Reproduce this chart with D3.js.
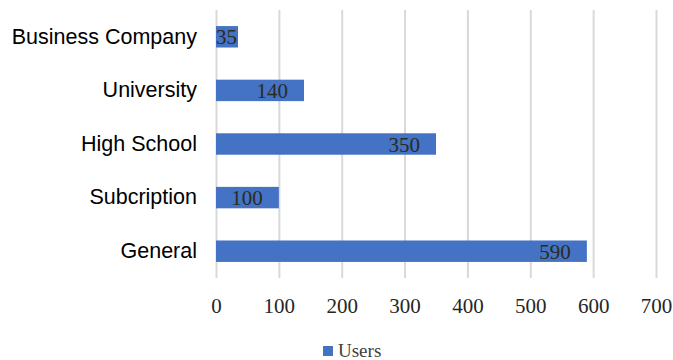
<!DOCTYPE html>
<html>
<head>
<meta charset="utf-8">
<script src="https://cdn.jsdelivr.net/npm/d3@7"></script>
<style>
  html, body { margin: 0; padding: 0; background: #fff; }
  svg { display: block; }
</style>
</head>
<body>
<svg id="chart" width="673" height="360"></svg>
<script>
'use strict';

// chart data
var categories = ['Business Company', 'University', 'High School', 'Subcription', 'General'];
var users = [35, 140, 350, 100, 590];
var xTicks = [0, 100, 200, 300, 400, 500, 600, 700];
var seriesName = 'Users';

var svg = d3.select('#chart'),
    margin = { top: 10, left: 216, right: 17, bottom: 82 },
    width = 673 - margin.left - margin.right,
    height = 360 - margin.top - margin.bottom;

var g = svg.append('g')
    .attr('transform', 'translate(' + margin.left + ',' + margin.top + ')');

var x = d3.scaleLinear().domain([0, 700]).range([0, width]);
var y = d3.scaleBand().domain(categories).range([0, height]).paddingInner(0.6).paddingOuter(0.3);

// vertical gridlines
var grid = g.append('g')
    .call(d3.axisBottom(x).tickValues(xTicks).tickSize(height).tickFormat(''));
grid.select('.domain').remove();
grid.selectAll('.tick line').attr('stroke', '#d9d9d9').attr('stroke-width', 2);

// x tick labels
var xAxis = g.append('g')
    .attr('transform', 'translate(0,' + height + ')')
    .call(d3.axisBottom(x).tickValues(xTicks).tickSize(0).tickPadding(20));
xAxis.select('.domain').remove();
xAxis.selectAll('text')
    .attr('font-family', '"Liberation Serif", "Times New Roman", serif')
    .attr('font-size', 21)
    .attr('fill', '#262626');

// category labels
var yAxis = g.append('g')
    .call(d3.axisLeft(y).tickSize(0).tickPadding(19));
yAxis.select('.domain').remove();
yAxis.selectAll('text')
    .attr('font-family', '"Liberation Sans", Arial, sans-serif')
    .attr('font-size', 21.5)
    .attr('fill', '#000');

var rows = categories.map(function(c, i) { return { cat: c, value: users[i] }; });

// bars
g.selectAll('rect.bar')
    .data(rows)
  .enter().append('rect')
    .attr('class', 'bar')
    .attr('x', x(0))
    .attr('y', function(d) { return y(d.cat); })
    .attr('width', function(d) { return x(d.value) - x(0); })
    .attr('height', y.bandwidth())
    .attr('fill', '#4472c4');

// value labels, inside end of each bar
g.selectAll('text.val')
    .data(rows)
  .enter().append('text')
    .attr('class', 'val')
    .attr('y', function(d) { return y(d.cat) + y.bandwidth() / 2; })
    .attr('dy', '0.36em')
    .attr('font-family', '"Liberation Serif", "Times New Roman", serif')
    .attr('font-size', 21)
    .attr('fill', '#2b2b20')
    .text(function(d) { return d.value; })
    .each(function(d) {
      var t = d3.select(this),
          w = this.getComputedTextLength(),
          end = x(d.value) - 16;
      // keep short labels inside the bar start
      if (end - w < x(0)) end = x(0) + w;
      t.attr('x', end - w);
    });

// legend
var legend = svg.append('g').attr('transform', 'translate(323,346)');
legend.append('rect')
    .attr('width', 10).attr('height', 10)
    .attr('fill', '#4472c4');
legend.append('text')
    .attr('x', 15).attr('y', 11)
    .attr('font-family', '"Liberation Serif", "Times New Roman", serif')
    .attr('font-size', 19)
    .attr('fill', '#404040')
    .text(seriesName);
</script>
</body>
</html>
